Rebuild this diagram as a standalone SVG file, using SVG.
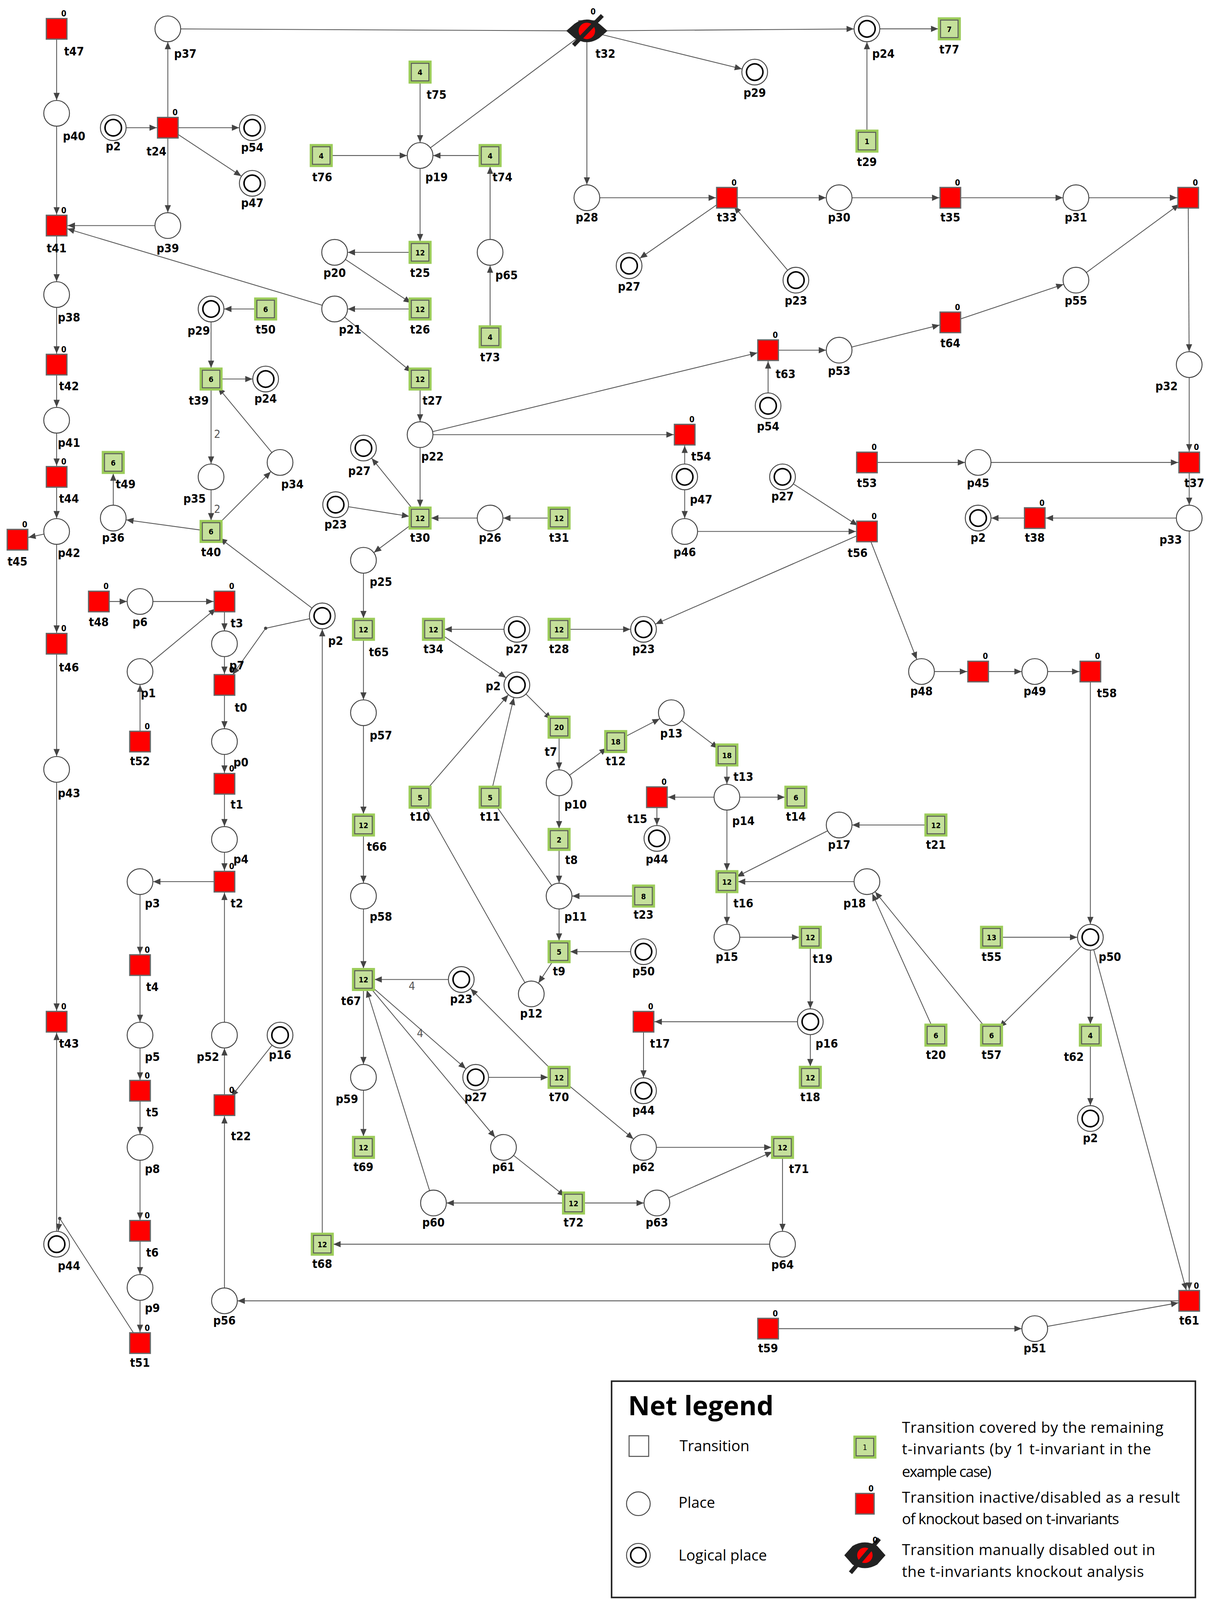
<svg xmlns="http://www.w3.org/2000/svg" width="3114" height="4133" viewBox="0 0 3114 4133">
<style>
.e{fill:none;stroke:#555;stroke-width:0.8}
.pl{fill:#fff;stroke:#444;stroke-width:0.9}
.lg{fill:none;stroke:#000;stroke-width:1.5}
.tr{fill:#ff0000;stroke:#666;stroke-width:1.2}
.tg{fill:#c5e09b;stroke:#555;stroke-width:0.9}
.tgo{fill:none;stroke:#9ccc5a;stroke-width:2.4}
text{font-family:"DejaVu Sans Condensed","DejaVu Sans",sans-serif;font-weight:bold;fill:#000}
.lb{font-size:11.5px;text-anchor:middle}
.z{font-size:8px;text-anchor:middle}
.n{font-size:7.5px;text-anchor:middle}
.w{font-size:11px;font-weight:normal;fill:#555;text-anchor:middle}
.lt{font-family:"Open Sans","Noto Sans",sans-serif;font-weight:normal;font-size:14.5px}
.dot{fill:#444}
</style>
<defs>
<marker id="ap" markerUnits="userSpaceOnUse" orient="auto" refX="12.8" refY="0" markerWidth="10" markerHeight="10" overflow="visible"><path d="M0,0 L-7,-3 L-7,3 z" fill="#444"/></marker>
<marker id="at" markerUnits="userSpaceOnUse" orient="auto" refX="10.8" refY="0" markerWidth="10" markerHeight="10" overflow="visible"><path d="M0,0 L-7,-3 L-7,3 z" fill="#444"/></marker>
<marker id="a0" markerUnits="userSpaceOnUse" orient="auto" refX="0" refY="0" markerWidth="10" markerHeight="10" overflow="visible"><path d="M0,0 L-7,-3 L-7,3 z" fill="#444"/></marker>
</defs>
<rect width="3114" height="4133" fill="#fff"/>
<g transform="scale(2.6367)">
<g id="connectors">
<path class="e" marker-end="url(#ap)" d="M55,28L55,110"/>
<path class="e" marker-end="url(#at)" d="M55,110L55,219"/>
<path class="e" marker-end="url(#at)" d="M163,219L55,219"/>
<path class="e" marker-end="url(#at)" d="M325,300L55,219"/>
<path class="e" marker-end="url(#ap)" d="M55,219L55,286"/>
<path class="e" marker-end="url(#at)" d="M55,286L55,354"/>
<path class="e" marker-end="url(#ap)" d="M55,354L55,408"/>
<path class="e" marker-end="url(#at)" d="M55,408L55,463"/>
<path class="e" marker-end="url(#ap)" d="M55,463L55,516"/>
<path class="e" marker-end="url(#at)" d="M55,516L17,524"/>
<path class="e" marker-end="url(#at)" d="M55,516L55,625"/>
<path class="e" marker-end="url(#ap)" d="M55,625L55,747"/>
<path class="e" marker-end="url(#at)" d="M55,747L55,992"/>
<path class="e" marker-end="url(#at)" d="M55,1208L55,992"/>
<path class="e" marker-end="url(#ap)" d="M136,1304L58,1183L55,1208"/>
<path class="e" marker-end="url(#at)" d="M110,124L163,124"/>
<path class="e" marker-end="url(#ap)" d="M163,124L163,28"/>
<path class="e" marker-end="url(#ap)" d="M163,124L245,124"/>
<path class="e" marker-end="url(#ap)" d="M163,124L245,178"/>
<path class="e" marker-end="url(#ap)" d="M163,124L163,219"/>
<path class="e" d="M163,28L570,30"/>
<path class="e" marker-end="url(#ap)" d="M570,30L842,28"/>
<path class="e" marker-end="url(#ap)" d="M570,30L733,70"/>
<path class="e" marker-end="url(#ap)" d="M570,30L570,192"/>
<path class="e" d="M408,151L570,30"/>
<path class="e" marker-end="url(#ap)" d="M842,137L842,28"/>
<path class="e" marker-end="url(#at)" d="M842,28L922,28"/>
<path class="e" marker-end="url(#ap)" d="M408,70L408,151"/>
<path class="e" marker-end="url(#ap)" d="M312,151L408,151"/>
<path class="e" marker-end="url(#ap)" d="M476,151L408,151"/>
<path class="e" marker-end="url(#at)" d="M408,151L408,245"/>
<path class="e" marker-end="url(#ap)" d="M408,245L325,245"/>
<path class="e" marker-end="url(#at)" d="M325,245L408,300"/>
<path class="e" marker-end="url(#ap)" d="M408,300L325,300"/>
<path class="e" marker-end="url(#at)" d="M325,300L408,368"/>
<path class="e" marker-end="url(#ap)" d="M476,327L476,245"/>
<path class="e" marker-end="url(#at)" d="M476,245L476,151"/>
<path class="e" marker-end="url(#ap)" d="M258,300L205,300"/>
<path class="e" marker-end="url(#at)" d="M205,300L205,368"/>
<path class="e" marker-end="url(#ap)" d="M205,368L258,368"/>
<path class="e" marker-end="url(#ap)" d="M205,368L205,463"/>
<path class="e" marker-end="url(#at)" d="M205,463L205,516"/>
<path class="e" marker-end="url(#ap)" d="M205,516L272,449"/>
<path class="e" marker-end="url(#at)" d="M272,449L205,368"/>
<path class="e" marker-end="url(#ap)" d="M205,516L110,503"/>
<path class="e" marker-end="url(#at)" d="M110,503L110,449"/>
<path class="e" marker-end="url(#at)" d="M313,598L205,516"/>
<path class="e" marker-end="url(#ap)" d="M408,368L408,422"/>
<path class="e" marker-end="url(#at)" d="M408,422L408,503"/>
<path class="e" marker-end="url(#at)" d="M408,422L665,422"/>
<path class="e" marker-end="url(#at)" d="M408,422L746,340"/>
<path class="e" marker-end="url(#ap)" d="M408,503L353,435"/>
<path class="e" marker-end="url(#at)" d="M326,490L408,503"/>
<path class="e" marker-end="url(#at)" d="M476,503L408,503"/>
<path class="e" marker-end="url(#ap)" d="M543,503L476,503"/>
<path class="e" marker-end="url(#ap)" d="M408,503L353,544"/>
<path class="e" marker-end="url(#at)" d="M353,544L353,611"/>
<path class="e" marker-end="url(#ap)" d="M353,611L353,692"/>
<path class="e" marker-end="url(#at)" d="M353,692L353,801"/>
<path class="e" marker-end="url(#ap)" d="M353,801L353,870"/>
<path class="e" marker-end="url(#at)" d="M353,870L353,951"/>
<path class="e" marker-end="url(#at)" d="M570,192L706,192"/>
<path class="e" marker-end="url(#ap)" d="M706,192L815,192"/>
<path class="e" marker-end="url(#ap)" d="M706,192L611,258"/>
<path class="e" marker-end="url(#at)" d="M773,272L706,192"/>
<path class="e" marker-end="url(#at)" d="M815,192L923,192"/>
<path class="e" marker-end="url(#ap)" d="M923,192L1045,192"/>
<path class="e" marker-end="url(#at)" d="M1045,192L1154,192"/>
<path class="e" marker-end="url(#at)" d="M1045,272L1154,192"/>
<path class="e" marker-end="url(#ap)" d="M923,313L1045,272"/>
<path class="e" marker-end="url(#at)" d="M815,340L923,313"/>
<path class="e" marker-end="url(#ap)" d="M746,340L815,340"/>
<path class="e" marker-end="url(#at)" d="M746,394L746,340"/>
<path class="e" marker-end="url(#ap)" d="M1154,192L1155,354"/>
<path class="e" marker-end="url(#at)" d="M1155,354L1155,449"/>
<path class="e" marker-end="url(#ap)" d="M842,449L950,449"/>
<path class="e" marker-end="url(#at)" d="M950,449L1155,449"/>
<path class="e" marker-end="url(#ap)" d="M1155,449L1155,503"/>
<path class="e" marker-end="url(#at)" d="M1155,503L1005,503"/>
<path class="e" marker-end="url(#ap)" d="M1005,503L950,503"/>
<path class="e" marker-end="url(#at)" d="M1155,503L1155,1263"/>
<path class="e" marker-end="url(#at)" d="M665,463L665,422"/>
<path class="e" marker-end="url(#ap)" d="M665,463L665,516"/>
<path class="e" marker-end="url(#at)" d="M665,516L842,516"/>
<path class="e" marker-end="url(#at)" d="M760,463L842,516"/>
<path class="e" marker-end="url(#ap)" d="M842,516L625,611"/>
<path class="e" marker-end="url(#ap)" d="M842,516L895,652"/>
<path class="e" marker-end="url(#at)" d="M895,652L950,652"/>
<path class="e" marker-end="url(#ap)" d="M950,652L1005,652"/>
<path class="e" marker-end="url(#at)" d="M1005,652L1059,652"/>
<path class="e" marker-end="url(#ap)" d="M1059,652L1059,910"/>
<path class="e" marker-end="url(#ap)" d="M963,910L1059,910"/>
<path class="e" marker-end="url(#at)" d="M1059,910L963,1005"/>
<path class="e" marker-end="url(#at)" d="M1059,910L1059,1005"/>
<path class="e" marker-end="url(#ap)" d="M1059,1005L1059,1086"/>
<path class="e" marker-end="url(#at)" d="M1059,910L1155,1263"/>
<path class="e" marker-end="url(#ap)" d="M963,1005L842,856"/>
<path class="e" marker-end="url(#ap)" d="M909,1005L842,856"/>
<path class="e" marker-end="url(#at)" d="M842,856L706,856"/>
<path class="e" marker-end="url(#at)" d="M815,801L706,856"/>
<path class="e" marker-end="url(#ap)" d="M909,801L815,801"/>
<path class="e" marker-end="url(#at)" d="M706,774L706,856"/>
<path class="e" marker-end="url(#ap)" d="M706,856L706,910"/>
<path class="e" marker-end="url(#at)" d="M706,910L787,910"/>
<path class="e" marker-end="url(#ap)" d="M787,910L787,992"/>
<path class="e" marker-end="url(#at)" d="M787,992L787,1046"/>
<path class="e" marker-end="url(#at)" d="M787,992L625,992"/>
<path class="e" marker-end="url(#ap)" d="M625,992L625,1059"/>
<path class="e" marker-end="url(#at)" d="M502,611L421,611"/>
<path class="e" marker-end="url(#ap)" d="M421,611L502,665"/>
<path class="e" marker-end="url(#ap)" d="M408,774L502,665"/>
<path class="e" marker-end="url(#ap)" d="M476,774L502,665"/>
<path class="e" marker-end="url(#at)" d="M502,665L543,706"/>
<path class="e" marker-end="url(#ap)" d="M543,706L543,760"/>
<path class="e" marker-end="url(#at)" d="M543,760L598,720"/>
<path class="e" marker-end="url(#ap)" d="M598,720L652,692"/>
<path class="e" marker-end="url(#at)" d="M652,692L706,733"/>
<path class="e" marker-end="url(#ap)" d="M706,733L706,774"/>
<path class="e" marker-end="url(#at)" d="M706,774L638,774"/>
<path class="e" marker-end="url(#at)" d="M706,774L773,774"/>
<path class="e" marker-end="url(#ap)" d="M638,774L638,814"/>
<path class="e" marker-end="url(#at)" d="M543,760L543,815"/>
<path class="e" marker-end="url(#ap)" d="M543,815L543,870"/>
<path class="e" marker-end="url(#ap)" d="M625,870L543,870"/>
<path class="e" marker-end="url(#at)" d="M543,870L543,924"/>
<path class="e" marker-end="url(#at)" d="M625,924L543,924"/>
<path class="e" marker-end="url(#ap)" d="M543,924L516,965"/>
<path class="e" d="M516,965L408,774"/>
<path class="e" d="M543,870L476,774"/>
<path class="e" marker-end="url(#ap)" d="M543,611L625,611"/>
<path class="e" marker-end="url(#ap)" d="M96,584L136,584"/>
<path class="e" marker-end="url(#at)" d="M136,584L218,584"/>
<path class="e" marker-end="url(#at)" d="M136,652L218,584"/>
<path class="e" marker-end="url(#ap)" d="M218,584L218,625"/>
<path class="e" marker-end="url(#at)" d="M218,625L218,665"/>
<path class="e" marker-end="url(#a0)" d="M313,598L258,610L226,655"/>
<path class="e" marker-end="url(#ap)" d="M136,720L136,652"/>
<path class="e" marker-end="url(#ap)" d="M218,665L218,720"/>
<path class="e" marker-end="url(#at)" d="M218,720L218,761"/>
<path class="e" marker-end="url(#ap)" d="M218,761L218,815"/>
<path class="e" marker-end="url(#at)" d="M218,815L218,856"/>
<path class="e" marker-end="url(#ap)" d="M218,856L136,856"/>
<path class="e" marker-end="url(#at)" d="M136,856L136,937"/>
<path class="e" marker-end="url(#ap)" d="M136,937L136,1005"/>
<path class="e" marker-end="url(#at)" d="M136,1005L136,1059"/>
<path class="e" marker-end="url(#ap)" d="M136,1059L136,1114"/>
<path class="e" marker-end="url(#at)" d="M136,1114L136,1195"/>
<path class="e" marker-end="url(#ap)" d="M136,1195L136,1250"/>
<path class="e" marker-end="url(#at)" d="M136,1250L136,1304"/>
<path class="e" marker-end="url(#at)" d="M218,1005L218,856"/>
<path class="e" marker-end="url(#ap)" d="M218,1073L218,1005"/>
<path class="e" marker-end="url(#at)" d="M272,1005L218,1073"/>
<path class="e" marker-end="url(#at)" d="M218,1263L218,1073"/>
<path class="e" marker-end="url(#ap)" d="M1155,1263L218,1263"/>
<path class="e" marker-end="url(#ap)" d="M746,1290L1005,1290"/>
<path class="e" marker-end="url(#at)" d="M1005,1290L1155,1263"/>
<path class="e" marker-end="url(#ap)" d="M313,1208L313,598"/>
<path class="e" marker-end="url(#at)" d="M760,1208L313,1208"/>
<path class="e" marker-end="url(#ap)" d="M760,1114L760,1208"/>
<path class="e" marker-end="url(#at)" d="M625,1114L760,1114"/>
<path class="e" marker-end="url(#at)" d="M638,1168L760,1114"/>
<path class="e" marker-end="url(#ap)" d="M557,1168L638,1168"/>
<path class="e" marker-end="url(#ap)" d="M557,1168L421,1168"/>
<path class="e" marker-end="url(#at)" d="M489,1114L557,1168"/>
<path class="e" marker-end="url(#ap)" d="M353,951L489,1114"/>
<path class="e" marker-end="url(#at)" d="M421,1168L353,951"/>
<path class="e" marker-end="url(#at)" d="M448,951L353,951"/>
<path class="e" marker-end="url(#ap)" d="M353,951L462,1046"/>
<path class="e" marker-end="url(#at)" d="M462,1046L543,1046"/>
<path class="e" marker-end="url(#ap)" d="M543,1046L625,1114"/>
<path class="e" marker-end="url(#ap)" d="M543,1046L448,951"/>
<path class="e" marker-end="url(#ap)" d="M353,951L353,1046"/>
<path class="e" marker-end="url(#at)" d="M353,1046L353,1114"/>
<circle class="dot" cx="58" cy="1183" r="1.6"/>
<circle class="dot" cx="258" cy="610" r="1.6"/>
<text class="w" x="211" y="425">2</text>
<text class="w" x="211" y="498">2</text>
<text class="w" x="400" y="961">4</text>
<text class="w" x="408" y="1007">4</text>
</g>
<!-- places -->
<g id="p37"><circle class="pl" cx="163" cy="28" r="12.5"/><text class="lb" x="180" y="56">p37</text></g>
<g id="p24a"><circle class="pl" cx="842" cy="28" r="12.5"/><circle class="lg" cx="842" cy="28" r="8"/><text class="lb" x="858" y="56">p24</text></g>
<g id="p29a"><circle class="pl" cx="733" cy="70" r="12.5"/><circle class="lg" cx="733" cy="70" r="8"/><text class="lb" x="733" y="94">p29</text></g>
<g id="p40"><circle class="pl" cx="55" cy="110" r="12.5"/><text class="lb" x="72" y="136">p40</text></g>
<g id="p2a"><circle class="pl" cx="110" cy="124" r="12.5"/><circle class="lg" cx="110" cy="124" r="8"/><text class="lb" x="110" y="146">p2</text></g>
<g id="p54a"><circle class="pl" cx="245" cy="124" r="12.5"/><circle class="lg" cx="245" cy="124" r="8"/><text class="lb" x="245" y="147">p54</text></g>
<g id="p47a"><circle class="pl" cx="245" cy="178" r="12.5"/><circle class="lg" cx="245" cy="178" r="8"/><text class="lb" x="245" y="201">p47</text></g>
<g id="p19"><circle class="pl" cx="408" cy="151" r="12.5"/><text class="lb" x="424" y="176">p19</text></g>
<g id="p39"><circle class="pl" cx="163" cy="219" r="12.5"/><text class="lb" x="163" y="245">p39</text></g>
<g id="p28"><circle class="pl" cx="570" cy="192" r="12.5"/><text class="lb" x="570" y="215">p28</text></g>
<g id="p30"><circle class="pl" cx="815" cy="192" r="12.5"/><text class="lb" x="815" y="215">p30</text></g>
<g id="p31"><circle class="pl" cx="1045" cy="192" r="12.5"/><text class="lb" x="1045" y="215">p31</text></g>
<g id="p20"><circle class="pl" cx="325" cy="245" r="12.5"/><text class="lb" x="325" y="269">p20</text></g>
<g id="p65"><circle class="pl" cx="476" cy="245" r="12.5"/><text class="lb" x="492" y="271">p65</text></g>
<g id="p27a"><circle class="pl" cx="611" cy="258" r="12.5"/><circle class="lg" cx="611" cy="258" r="8"/><text class="lb" x="611" y="282">p27</text></g>
<g id="p23a"><circle class="pl" cx="773" cy="272" r="12.5"/><circle class="lg" cx="773" cy="272" r="8"/><text class="lb" x="773" y="296">p23</text></g>
<g id="p55"><circle class="pl" cx="1045" cy="272" r="12.5"/><text class="lb" x="1045" y="296">p55</text></g>
<g id="p38"><circle class="pl" cx="55" cy="286" r="12.5"/><text class="lb" x="67" y="312">p38</text></g>
<g id="p29b"><circle class="pl" cx="205" cy="300" r="12.5"/><circle class="lg" cx="205" cy="300" r="8"/><text class="lb" x="193" y="325">p29</text></g>
<g id="p21"><circle class="pl" cx="325" cy="300" r="12.5"/><text class="lb" x="340" y="324">p21</text></g>
<g id="p53"><circle class="pl" cx="815" cy="340" r="12.5"/><text class="lb" x="815" y="364">p53</text></g>
<g id="p32"><circle class="pl" cx="1155" cy="354" r="12.5"/><text class="lb" x="1133" y="379">p32</text></g>
<g id="p24b"><circle class="pl" cx="258" cy="368" r="12.5"/><circle class="lg" cx="258" cy="368" r="8"/><text class="lb" x="258" y="391">p24</text></g>
<g id="p54b"><circle class="pl" cx="746" cy="394" r="12.5"/><circle class="lg" cx="746" cy="394" r="8"/><text class="lb" x="746" y="418">p54</text></g>
<g id="p41"><circle class="pl" cx="55" cy="408" r="12.5"/><text class="lb" x="67" y="434">p41</text></g>
<g id="p22"><circle class="pl" cx="408" cy="422" r="12.5"/><text class="lb" x="420" y="447">p22</text></g>
<g id="p27b"><circle class="pl" cx="353" cy="435" r="12.5"/><circle class="lg" cx="353" cy="435" r="8"/><text class="lb" x="349" y="461">p27</text></g>
<g id="p45"><circle class="pl" cx="950" cy="449" r="12.5"/><text class="lb" x="950" y="473">p45</text></g>
<g id="p34"><circle class="pl" cx="272" cy="449" r="12.5"/><text class="lb" x="284" y="474">p34</text></g>
<g id="p35"><circle class="pl" cx="205" cy="463" r="12.5"/><text class="lb" x="189" y="488">p35</text></g>
<g id="p47b"><circle class="pl" cx="665" cy="463" r="12.5"/><circle class="lg" cx="665" cy="463" r="8"/><text class="lb" x="681" y="489">p47</text></g>
<g id="p27c"><circle class="pl" cx="760" cy="463" r="12.5"/><circle class="lg" cx="760" cy="463" r="8"/><text class="lb" x="760" y="486">p27</text></g>
<g id="p23b"><circle class="pl" cx="326" cy="490" r="12.5"/><circle class="lg" cx="326" cy="490" r="8"/><text class="lb" x="326" y="513">p23</text></g>
<g id="p36"><circle class="pl" cx="110" cy="503" r="12.5"/><text class="lb" x="110" y="526">p36</text></g>
<g id="p26"><circle class="pl" cx="476" cy="503" r="12.5"/><text class="lb" x="476" y="526">p26</text></g>
<g id="p46"><circle class="pl" cx="665" cy="516" r="12.5"/><text class="lb" x="665" y="540">p46</text></g>
<g id="p2b"><circle class="pl" cx="950" cy="503" r="12.5"/><circle class="lg" cx="950" cy="503" r="8"/><text class="lb" x="950" y="526">p2</text></g>
<g id="p33"><circle class="pl" cx="1155" cy="503" r="12.5"/><text class="lb" x="1137" y="528">p33</text></g>
<g id="p42"><circle class="pl" cx="55" cy="516" r="12.5"/><text class="lb" x="67" y="541">p42</text></g>
<g id="p25"><circle class="pl" cx="353" cy="544" r="12.5"/><text class="lb" x="370" y="569">p25</text></g>
<g id="p6"><circle class="pl" cx="136" cy="584" r="12.5"/><text class="lb" x="136" y="608">p6</text></g>
<g id="p2d"><circle class="pl" cx="313" cy="598" r="12.5"/><circle class="lg" cx="313" cy="598" r="8"/><text class="lb" x="326" y="626">p2</text></g>
<g id="p27d"><circle class="pl" cx="502" cy="611" r="12.5"/><circle class="lg" cx="502" cy="611" r="8"/><text class="lb" x="502" y="634">p27</text></g>
<g id="p23c"><circle class="pl" cx="625" cy="611" r="12.5"/><circle class="lg" cx="625" cy="611" r="8"/><text class="lb" x="625" y="634">p23</text></g>
<g id="p7"><circle class="pl" cx="218" cy="625" r="12.5"/><text class="lb" x="230" y="650">p7</text></g>
<g id="p1"><circle class="pl" cx="136" cy="652" r="12.5"/><text class="lb" x="144" y="677">p1</text></g>
<g id="p2c"><circle class="pl" cx="502" cy="665" r="12.5"/><circle class="lg" cx="502" cy="665" r="8"/><text class="lb" x="479" y="670">p2</text></g>
<g id="p48"><circle class="pl" cx="895" cy="652" r="12.5"/><text class="lb" x="895" y="675">p48</text></g>
<g id="p49"><circle class="pl" cx="1005" cy="652" r="12.5"/><text class="lb" x="1005" y="675">p49</text></g>
<g id="p57"><circle class="pl" cx="353" cy="692" r="12.5"/><text class="lb" x="370" y="718">p57</text></g>
<g id="p13"><circle class="pl" cx="652" cy="692" r="12.5"/><text class="lb" x="652" y="716">p13</text></g>
<g id="p0"><circle class="pl" cx="218" cy="720" r="12.5"/><text class="lb" x="234" y="744">p0</text></g>
<g id="p10"><circle class="pl" cx="543" cy="760" r="12.5"/><text class="lb" x="559" y="785">p10</text></g>
<g id="p14"><circle class="pl" cx="706" cy="774" r="12.5"/><text class="lb" x="722" y="801">p14</text></g>
<g id="p44b"><circle class="pl" cx="638" cy="814" r="12.5"/><circle class="lg" cx="638" cy="814" r="8"/><text class="lb" x="638" y="838">p44</text></g>
<g id="p17"><circle class="pl" cx="815" cy="801" r="12.5"/><text class="lb" x="815" y="824">p17</text></g>
<g id="p4"><circle class="pl" cx="218" cy="815" r="12.5"/><text class="lb" x="234" y="838">p4</text></g>
<g id="p3"><circle class="pl" cx="136" cy="856" r="12.5"/><text class="lb" x="148" y="881">p3</text></g>
<g id="p18"><circle class="pl" cx="842" cy="856" r="12.5"/><text class="lb" x="830" y="881">p18</text></g>
<g id="p58"><circle class="pl" cx="353" cy="870" r="12.5"/><text class="lb" x="370" y="894">p58</text></g>
<g id="p11"><circle class="pl" cx="543" cy="870" r="12.5"/><text class="lb" x="559" y="894">p11</text></g>
<g id="p15"><circle class="pl" cx="706" cy="910" r="12.5"/><text class="lb" x="706" y="933">p15</text></g>
<g id="p50a"><circle class="pl" cx="1059" cy="910" r="12.5"/><circle class="lg" cx="1059" cy="910" r="8"/><text class="lb" x="1078" y="933">p50</text></g>
<g id="p50b"><circle class="pl" cx="625" cy="924" r="12.5"/><circle class="lg" cx="625" cy="924" r="8"/><text class="lb" x="625" y="947">p50</text></g>
<g id="p23d"><circle class="pl" cx="448" cy="951" r="12.5"/><circle class="lg" cx="448" cy="951" r="8"/><text class="lb" x="448" y="974">p23</text></g>
<g id="p12"><circle class="pl" cx="516" cy="965" r="12.5"/><text class="lb" x="516" y="988">p12</text></g>
<g id="p16a"><circle class="pl" cx="787" cy="992" r="12.5"/><circle class="lg" cx="787" cy="992" r="8"/><text class="lb" x="803" y="1017">p16</text></g>
<g id="p43"><circle class="pl" cx="55" cy="747" r="12.5"/><text class="lb" x="67" y="774">p43</text></g>
<g id="p5"><circle class="pl" cx="136" cy="1005" r="12.5"/><text class="lb" x="148" y="1030">p5</text></g>
<g id="p52"><circle class="pl" cx="218" cy="1005" r="12.5"/><text class="lb" x="202" y="1030">p52</text></g>
<g id="p16b"><circle class="pl" cx="272" cy="1005" r="12.5"/><circle class="lg" cx="272" cy="1005" r="8"/><text class="lb" x="272" y="1028">p16</text></g>
<g id="p59"><circle class="pl" cx="353" cy="1046" r="12.5"/><text class="lb" x="337" y="1071">p59</text></g>
<g id="p27e"><circle class="pl" cx="462" cy="1046" r="12.5"/><circle class="lg" cx="462" cy="1046" r="8"/><text class="lb" x="462" y="1069">p27</text></g>
<g id="p44c"><circle class="pl" cx="625" cy="1059" r="12.5"/><circle class="lg" cx="625" cy="1059" r="8"/><text class="lb" x="625" y="1082">p44</text></g>
<g id="p2e"><circle class="pl" cx="1059" cy="1086" r="12.5"/><circle class="lg" cx="1059" cy="1086" r="8"/><text class="lb" x="1059" y="1109">p2</text></g>
<g id="p8"><circle class="pl" cx="136" cy="1114" r="12.5"/><text class="lb" x="148" y="1139">p8</text></g>
<g id="p61"><circle class="pl" cx="489" cy="1114" r="12.5"/><text class="lb" x="489" y="1137">p61</text></g>
<g id="p62"><circle class="pl" cx="625" cy="1114" r="12.5"/><text class="lb" x="625" y="1137">p62</text></g>
<g id="p60"><circle class="pl" cx="421" cy="1168" r="12.5"/><text class="lb" x="421" y="1191">p60</text></g>
<g id="p63"><circle class="pl" cx="638" cy="1168" r="12.5"/><text class="lb" x="638" y="1191">p63</text></g>
<g id="p44a"><circle class="pl" cx="55" cy="1208" r="12.5"/><circle class="lg" cx="55" cy="1208" r="8"/><text class="lb" x="67" y="1233">p44</text></g>
<g id="p64"><circle class="pl" cx="760" cy="1208" r="12.5"/><text class="lb" x="760" y="1232">p64</text></g>
<g id="p9"><circle class="pl" cx="136" cy="1250" r="12.5"/><text class="lb" x="148" y="1274">p9</text></g>
<g id="p56"><circle class="pl" cx="218" cy="1263" r="12.5"/><text class="lb" x="218" y="1286">p56</text></g>
<g id="p51"><circle class="pl" cx="1005" cy="1290" r="12.5"/><text class="lb" x="1005" y="1313">p51</text></g>
<!-- red transitions -->
<g id="t47"><rect class="tr" x="45" y="18" width="20" height="20"/><text class="z" x="62" y="16">0</text><text class="lb" x="72" y="54">t47</text></g>
<g id="t24"><rect class="tr" x="153" y="114" width="20" height="20"/><text class="z" x="170" y="112">0</text><text class="lb" x="152" y="151">t24</text></g>
<g id="t41"><rect class="tr" x="45" y="209" width="20" height="20"/><text class="z" x="62" y="207">0</text><text class="lb" x="55" y="245">t41</text></g>
<g id="t33"><rect class="tr" x="696" y="182" width="20" height="20"/><text class="z" x="713" y="180">0</text><text class="lb" x="706" y="215">t33</text></g>
<g id="t35"><rect class="tr" x="913" y="182" width="20" height="20"/><text class="z" x="930" y="180">0</text><text class="lb" x="923" y="215">t35</text></g>
<g id="t36"><rect class="tr" x="1144" y="182" width="20" height="20"/><text class="z" x="1161" y="180">0</text></g>
<g id="t64"><rect class="tr" x="913" y="303" width="20" height="20"/><text class="z" x="930" y="301">0</text><text class="lb" x="923" y="337">t64</text></g>
<g id="t63"><rect class="tr" x="736" y="330" width="20" height="20"/><text class="z" x="753" y="328">0</text><text class="lb" x="763" y="367">t63</text></g>
<g id="t42"><rect class="tr" x="45" y="344" width="20" height="20"/><text class="z" x="62" y="342">0</text><text class="lb" x="67" y="379">t42</text></g>
<g id="t54"><rect class="tr" x="655" y="412" width="20" height="20"/><text class="z" x="672" y="410">0</text><text class="lb" x="681" y="447">t54</text></g>
<g id="t53"><rect class="tr" x="832" y="439" width="20" height="20"/><text class="z" x="849" y="437">0</text><text class="lb" x="842" y="473">t53</text></g>
<g id="t37"><rect class="tr" x="1145" y="439" width="20" height="20"/><text class="z" x="1162" y="437">0</text><text class="lb" x="1160" y="473">t37</text></g>
<g id="t44"><rect class="tr" x="45" y="453" width="20" height="20"/><text class="z" x="62" y="451">0</text><text class="lb" x="67" y="488">t44</text></g>
<g id="t56"><rect class="tr" x="832" y="506" width="20" height="20"/><text class="z" x="849" y="504">0</text><text class="lb" x="833" y="541">t56</text></g>
<g id="t38"><rect class="tr" x="995" y="493" width="20" height="20"/><text class="z" x="1012" y="491">0</text><text class="lb" x="1005" y="526">t38</text></g>
<g id="t45"><rect class="tr" x="7" y="514" width="20" height="20"/><text class="z" x="24" y="512">0</text><text class="lb" x="17" y="549">t45</text></g>
<g id="t48"><rect class="tr" x="86" y="574" width="20" height="20"/><text class="z" x="103" y="572">0</text><text class="lb" x="96" y="608">t48</text></g>
<g id="t3"><rect class="tr" x="208" y="574" width="20" height="20"/><text class="z" x="225" y="572">0</text><text class="lb" x="230" y="609">t3</text></g>
<g id="t46"><rect class="tr" x="45" y="615" width="20" height="20"/><text class="z" x="62" y="613">0</text><text class="lb" x="67" y="652">t46</text></g>
<g id="t0"><rect class="tr" x="208" y="655" width="20" height="20"/><text class="z" x="225" y="653">0</text><text class="lb" x="234" y="691">t0</text></g>
<g id="t60"><rect class="tr" x="940" y="642" width="20" height="20"/><text class="z" x="957" y="640">0</text></g>
<g id="t58"><rect class="tr" x="1049" y="642" width="20" height="20"/><text class="z" x="1066" y="640">0</text><text class="lb" x="1075" y="677">t58</text></g>
<g id="t52"><rect class="tr" x="126" y="710" width="20" height="20"/><text class="z" x="143" y="708">0</text><text class="lb" x="136" y="743">t52</text></g>
<g id="t1"><rect class="tr" x="208" y="751" width="20" height="20"/><text class="z" x="225" y="749">0</text><text class="lb" x="230" y="785">t1</text></g>
<g id="t15"><rect class="tr" x="628" y="764" width="20" height="20"/><text class="z" x="645" y="762">0</text><text class="lb" x="619" y="799">t15</text></g>
<g id="t2"><rect class="tr" x="208" y="846" width="20" height="20"/><text class="z" x="225" y="844">0</text><text class="lb" x="230" y="881">t2</text></g>
<g id="t4"><rect class="tr" x="126" y="927" width="20" height="20"/><text class="z" x="143" y="925">0</text><text class="lb" x="148" y="962">t4</text></g>
<g id="t43"><rect class="tr" x="45" y="982" width="20" height="20"/><text class="z" x="62" y="980">0</text><text class="lb" x="67" y="1017">t43</text></g>
<g id="t17"><rect class="tr" x="615" y="982" width="20" height="20"/><text class="z" x="632" y="980">0</text><text class="lb" x="641" y="1017">t17</text></g>
<g id="t5"><rect class="tr" x="126" y="1049" width="20" height="20"/><text class="z" x="143" y="1047">0</text><text class="lb" x="148" y="1084">t5</text></g>
<g id="t22"><rect class="tr" x="208" y="1063" width="20" height="20"/><text class="z" x="225" y="1061">0</text><text class="lb" x="234" y="1107">t22</text></g>
<g id="t6"><rect class="tr" x="126" y="1185" width="20" height="20"/><text class="z" x="143" y="1183">0</text><text class="lb" x="148" y="1220">t6</text></g>
<g id="t61"><rect class="tr" x="1145" y="1253" width="20" height="20"/><text class="z" x="1162" y="1251">0</text><text class="lb" x="1155" y="1286">t61</text></g>
<g id="t59"><rect class="tr" x="736" y="1280" width="20" height="20"/><text class="z" x="753" y="1278">0</text><text class="lb" x="746" y="1313">t59</text></g>
<g id="t51"><rect class="tr" x="126" y="1294" width="20" height="20"/><text class="z" x="143" y="1292">0</text><text class="lb" x="136" y="1327">t51</text></g>
<!-- green transitions -->
<g id="t77"><rect class="tgo" x="912" y="18" width="20" height="20"/><rect class="tg" x="913.5" y="19.5" width="17" height="17"/><text class="n" x="922" y="31">7</text><text class="lb" x="922" y="52">t77</text></g>
<g id="t75"><rect class="tgo" x="398" y="60" width="20" height="20"/><rect class="tg" x="399.5" y="61.5" width="17" height="17"/><text class="n" x="408" y="73">4</text><text class="lb" x="424" y="96">t75</text></g>
<g id="t29"><rect class="tgo" x="832" y="127" width="20" height="20"/><rect class="tg" x="833.5" y="128.5" width="17" height="17"/><text class="n" x="842" y="140">1</text><text class="lb" x="842" y="161">t29</text></g>
<g id="t76"><rect class="tgo" x="302" y="141" width="20" height="20"/><rect class="tg" x="303.5" y="142.5" width="17" height="17"/><text class="n" x="312" y="154">4</text><text class="lb" x="313" y="176">t76</text></g>
<g id="t74"><rect class="tgo" x="466" y="141" width="20" height="20"/><rect class="tg" x="467.5" y="142.5" width="17" height="17"/><text class="n" x="476" y="154">4</text><text class="lb" x="488" y="176">t74</text></g>
<g id="t25"><rect class="tgo" x="398" y="235" width="20" height="20"/><rect class="tg" x="399.5" y="236.5" width="17" height="17"/><text class="n" x="408" y="248">12</text><text class="lb" x="408" y="269">t25</text></g>
<g id="t50"><rect class="tgo" x="248" y="290" width="20" height="20"/><rect class="tg" x="249.5" y="291.5" width="17" height="17"/><text class="n" x="258" y="303">6</text><text class="lb" x="258" y="324">t50</text></g>
<g id="t26"><rect class="tgo" x="398" y="290" width="20" height="20"/><rect class="tg" x="399.5" y="291.5" width="17" height="17"/><text class="n" x="408" y="303">12</text><text class="lb" x="408" y="324">t26</text></g>
<g id="t73"><rect class="tgo" x="466" y="317" width="20" height="20"/><rect class="tg" x="467.5" y="318.5" width="17" height="17"/><text class="n" x="476" y="330">4</text><text class="lb" x="476" y="351">t73</text></g>
<g id="t39"><rect class="tgo" x="195" y="358" width="20" height="20"/><rect class="tg" x="196.5" y="359.5" width="17" height="17"/><text class="n" x="205" y="371">6</text><text class="lb" x="193" y="393">t39</text></g>
<g id="t27"><rect class="tgo" x="398" y="358" width="20" height="20"/><rect class="tg" x="399.5" y="359.5" width="17" height="17"/><text class="n" x="408" y="371">12</text><text class="lb" x="420" y="393">t27</text></g>
<g id="t49"><rect class="tgo" x="100" y="439" width="20" height="20"/><rect class="tg" x="101.5" y="440.5" width="17" height="17"/><text class="n" x="110" y="452">6</text><text class="lb" x="122" y="474">t49</text></g>
<g id="t40"><rect class="tgo" x="195" y="506" width="20" height="20"/><rect class="tg" x="196.5" y="507.5" width="17" height="17"/><text class="n" x="205" y="519">6</text><text class="lb" x="205" y="540">t40</text></g>
<g id="t30"><rect class="tgo" x="398" y="493" width="20" height="20"/><rect class="tg" x="399.5" y="494.5" width="17" height="17"/><text class="n" x="408" y="506">12</text><text class="lb" x="408" y="526">t30</text></g>
<g id="t31"><rect class="tgo" x="533" y="493" width="20" height="20"/><rect class="tg" x="534.5" y="494.5" width="17" height="17"/><text class="n" x="543" y="506">12</text><text class="lb" x="543" y="526">t31</text></g>
<g id="t65"><rect class="tgo" x="343" y="601" width="20" height="20"/><rect class="tg" x="344.5" y="602.5" width="17" height="17"/><text class="n" x="353" y="614">12</text><text class="lb" x="368" y="637">t65</text></g>
<g id="t34"><rect class="tgo" x="411" y="601" width="20" height="20"/><rect class="tg" x="412.5" y="602.5" width="17" height="17"/><text class="n" x="421" y="614">12</text><text class="lb" x="421" y="634">t34</text></g>
<g id="t28"><rect class="tgo" x="533" y="601" width="20" height="20"/><rect class="tg" x="534.5" y="602.5" width="17" height="17"/><text class="n" x="543" y="614">12</text><text class="lb" x="543" y="634">t28</text></g>
<g id="t7"><rect class="tgo" x="533" y="696" width="20" height="20"/><rect class="tg" x="534.5" y="697.5" width="17" height="17"/><text class="n" x="543" y="709">20</text><text class="lb" x="535" y="734">t7</text></g>
<g id="t12"><rect class="tgo" x="588" y="710" width="20" height="20"/><rect class="tg" x="589.5" y="711.5" width="17" height="17"/><text class="n" x="598" y="723">18</text><text class="lb" x="598" y="743">t12</text></g>
<g id="t13"><rect class="tgo" x="696" y="723" width="20" height="20"/><rect class="tg" x="697.5" y="724.5" width="17" height="17"/><text class="n" x="706" y="736">18</text><text class="lb" x="722" y="758">t13</text></g>
<g id="t14"><rect class="tgo" x="763" y="764" width="20" height="20"/><rect class="tg" x="764.5" y="765.5" width="17" height="17"/><text class="n" x="773" y="777">6</text><text class="lb" x="773" y="797">t14</text></g>
<g id="t10"><rect class="tgo" x="398" y="764" width="20" height="20"/><rect class="tg" x="399.5" y="765.5" width="17" height="17"/><text class="n" x="408" y="777">5</text><text class="lb" x="408" y="797">t10</text></g>
<g id="t11"><rect class="tgo" x="466" y="764" width="20" height="20"/><rect class="tg" x="467.5" y="765.5" width="17" height="17"/><text class="n" x="476" y="777">5</text><text class="lb" x="476" y="797">t11</text></g>
<g id="t21"><rect class="tgo" x="899" y="791" width="20" height="20"/><rect class="tg" x="900.5" y="792.5" width="17" height="17"/><text class="n" x="909" y="804">12</text><text class="lb" x="909" y="824">t21</text></g>
<g id="t8"><rect class="tgo" x="533" y="805" width="20" height="20"/><rect class="tg" x="534.5" y="806.5" width="17" height="17"/><text class="n" x="543" y="818">2</text><text class="lb" x="555" y="839">t8</text></g>
<g id="t66"><rect class="tgo" x="343" y="791" width="20" height="20"/><rect class="tg" x="344.5" y="792.5" width="17" height="17"/><text class="n" x="353" y="804">12</text><text class="lb" x="366" y="826">t66</text></g>
<g id="t16"><rect class="tgo" x="696" y="846" width="20" height="20"/><rect class="tg" x="697.5" y="847.5" width="17" height="17"/><text class="n" x="706" y="859">12</text><text class="lb" x="722" y="881">t16</text></g>
<g id="t23"><rect class="tgo" x="615" y="860" width="20" height="20"/><rect class="tg" x="616.5" y="861.5" width="17" height="17"/><text class="n" x="625" y="873">8</text><text class="lb" x="625" y="892">t23</text></g>
<g id="t19"><rect class="tgo" x="777" y="900" width="20" height="20"/><rect class="tg" x="778.5" y="901.5" width="17" height="17"/><text class="n" x="787" y="913">12</text><text class="lb" x="799" y="935">t19</text></g>
<g id="t55"><rect class="tgo" x="953" y="900" width="20" height="20"/><rect class="tg" x="954.5" y="901.5" width="17" height="17"/><text class="n" x="963" y="913">13</text><text class="lb" x="963" y="933">t55</text></g>
<g id="t9"><rect class="tgo" x="533" y="914" width="20" height="20"/><rect class="tg" x="534.5" y="915.5" width="17" height="17"/><text class="n" x="543" y="927">5</text><text class="lb" x="543" y="947">t9</text></g>
<g id="t67"><rect class="tgo" x="343" y="941" width="20" height="20"/><rect class="tg" x="344.5" y="942.5" width="17" height="17"/><text class="n" x="353" y="954">12</text><text class="lb" x="341" y="976">t67</text></g>
<g id="t20"><rect class="tgo" x="899" y="995" width="20" height="20"/><rect class="tg" x="900.5" y="996.5" width="17" height="17"/><text class="n" x="909" y="1008">6</text><text class="lb" x="909" y="1028">t20</text></g>
<g id="t57"><rect class="tgo" x="953" y="995" width="20" height="20"/><rect class="tg" x="954.5" y="996.5" width="17" height="17"/><text class="n" x="963" y="1008">6</text><text class="lb" x="963" y="1028">t57</text></g>
<g id="t62"><rect class="tgo" x="1049" y="995" width="20" height="20"/><rect class="tg" x="1050.5" y="996.5" width="17" height="17"/><text class="n" x="1059" y="1008">4</text><text class="lb" x="1043" y="1030">t62</text></g>
<g id="t70"><rect class="tgo" x="533" y="1036" width="20" height="20"/><rect class="tg" x="534.5" y="1037.5" width="17" height="17"/><text class="n" x="543" y="1049">12</text><text class="lb" x="543" y="1069">t70</text></g>
<g id="t18"><rect class="tgo" x="777" y="1036" width="20" height="20"/><rect class="tg" x="778.5" y="1037.5" width="17" height="17"/><text class="n" x="787" y="1049">12</text><text class="lb" x="787" y="1069">t18</text></g>
<g id="t69"><rect class="tgo" x="343" y="1104" width="20" height="20"/><rect class="tg" x="344.5" y="1105.5" width="17" height="17"/><text class="n" x="353" y="1117">12</text><text class="lb" x="353" y="1137">t69</text></g>
<g id="t71"><rect class="tgo" x="750" y="1104" width="20" height="20"/><rect class="tg" x="751.5" y="1105.5" width="17" height="17"/><text class="n" x="760" y="1117">12</text><text class="lb" x="776" y="1139">t71</text></g>
<g id="t72"><rect class="tgo" x="547" y="1158" width="20" height="20"/><rect class="tg" x="548.5" y="1159.5" width="17" height="17"/><text class="n" x="557" y="1171">12</text><text class="lb" x="557" y="1191">t72</text></g>
<g id="t68"><rect class="tgo" x="303" y="1198" width="20" height="20"/><rect class="tg" x="304.5" y="1199.5" width="17" height="17"/><text class="n" x="313" y="1211">12</text><text class="lb" x="313" y="1231">t68</text></g>
<!-- disabled t32 -->
<g id="t32">
<rect x="562" y="20" width="16" height="18" fill="#ff0000" stroke="#666" stroke-width="0.8"/>
<path d="M550,30 L558,23 Q570,15 582,23 L590,30 L582,37 Q570,45 558,37 Z" fill="#222"/>
<circle cx="570" cy="30" r="8" fill="#ff0000"/>
<line x1="557" y1="44" x2="585" y2="15" stroke="#222" stroke-width="4"/>
<text class="z" x="576" y="14">0</text><text class="lb" x="588" y="56">t32</text>
</g>
<!-- legend -->
<g id="legend">
<rect x="594" y="1341" width="567" height="210" fill="#fff" stroke="#222" stroke-width="1.5"/>
<text x="610" y="1374" style="font-family:'Open Sans','Noto Sans',sans-serif;font-size:26px;font-weight:bold">Net legend</text>
<rect x="611" y="1394" width="19" height="20" fill="#fff" stroke="#555" stroke-width="1"/>
<text class="lt" x="660" y="1409">Transition</text>
<circle cx="620" cy="1460" r="11.5" fill="#fff" stroke="#444" stroke-width="0.9"/>
<text class="lt" x="659" y="1464">Place</text>
<circle cx="620" cy="1510" r="11.5" fill="#fff" stroke="#444" stroke-width="0.9"/><circle cx="620" cy="1510" r="7.5" fill="none" stroke="#000" stroke-width="1.5"/>
<text class="lt" x="659" y="1515">Logical place</text>
<rect class="tgo" x="830" y="1395" width="20" height="20"/><rect class="tg" x="831.5" y="1396.5" width="17" height="17"/><text class="n" x="840" y="1408" style="font-weight:normal">1</text>
<text class="lt" x="876" y="1391" textLength="254">Transition covered by the remaining</text>
<text class="lt" x="876" y="1412" textLength="242">t-invariants (by 1 t-invariant in the</text>
<text class="lt" x="876" y="1434" textLength="87">example case)</text>
<rect class="tr" x="831" y="1450" width="18" height="20"/><text class="z" x="846" y="1448">0</text>
<text class="lt" x="876" y="1459" textLength="270">Transition inactive/disabled as a result</text>
<text class="lt" x="876" y="1480" textLength="211">of knockout based on t-invariants</text>
<path d="M820,1510 L828,1501 Q840,1494 852,1501 L860,1510 L852,1519 Q840,1526 828,1519 Z" fill="#222"/>
<circle cx="840" cy="1510" r="7.5" fill="#ff0000"/>
<line x1="826" y1="1527" x2="854" y2="1494" stroke="#222" stroke-width="4"/>
<text class="z" x="850" y="1498">0</text>
<text class="lt" x="876" y="1510" textLength="246">Transition manually disabled out in</text>
<text class="lt" x="876" y="1531" textLength="235">the t-invariants knockout analysis</text>
</g>
</g>
</svg>
